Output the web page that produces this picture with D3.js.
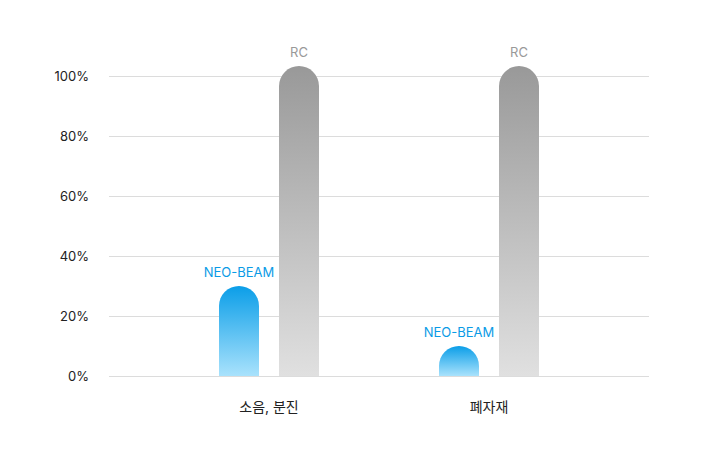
<!DOCTYPE html>
<html><head><meta charset="utf-8">
<script src="https://cdn.jsdelivr.net/npm/d3@7"></script>
<style>
html,body{margin:0;padding:0;background:#fff;}
svg{display:block;font-family:Inter,"Noto Sans CJK KR",sans-serif;}
</style></head>
<body>
<svg id="chart" width="703" height="458"></svg>
<script>
const categories = ["소음, 분진", "폐자재"];
const seriesNames = ["NEO-BEAM", "RC"];
const neoBeam = [30, 10];
const rc = [103.3, 103.3];
const yTicks = [0, 20, 40, 60, 80, 100];

(function(){
const svg = d3.select("#chart");
const pLeft = 109, pRight = 649, pTop = 76, pBottom = 376;
const y = d3.scaleLinear().domain([0, 100]).range([pBottom, pTop]);
const x0 = d3.scaleBand().domain(categories).range([159, 599]).padding(0);
const x1 = d3.scaleBand().domain(seriesNames).range([50, 170]).paddingInner(0.5).paddingOuter(0.25);

const defs = svg.append("defs");
const gb = defs.append("linearGradient").attr("id","gBlue").attr("x1",0).attr("y1",0).attr("x2",0).attr("y2",1);
gb.append("stop").attr("offset","0%").attr("stop-color","#0b9ee8");
gb.append("stop").attr("offset","100%").attr("stop-color","#a9e2fc");
const gg = defs.append("linearGradient").attr("id","gGray").attr("x1",0).attr("y1",0).attr("x2",0).attr("y2",1);
gg.append("stop").attr("offset","0%").attr("stop-color","#999999");
gg.append("stop").attr("offset","100%").attr("stop-color","#e0e0e0");

svg.append("g").selectAll("line").data(yTicks).join("line")
  .attr("x1", pLeft).attr("x2", pRight)
  .attr("y1", d => y(d)).attr("y2", d => y(d))
  .attr("stroke", "#dcdcdc").attr("stroke-width", 1).attr("shape-rendering","crispEdges");

svg.append("g").selectAll("text").data(yTicks).join("text")
  .attr("x", 89).attr("y", d => y(d)).attr("dy", "0.35em")
  .attr("text-anchor", "end").attr("font-size", 13).attr("fill", "#222")
  .text(d => d + "%");

function barPath(x, w, yT, yB) {
  const r = w / 2;
  return `M${x},${yB} L${x},${yT + r} A${r},${r} 0 0 1 ${x + w},${yT + r} L${x + w},${yB} Z`;
}

const bars = [];
categories.forEach((c, i) => {
  bars.push({cat: c, s: "NEO-BEAM", v: neoBeam[i]});
  bars.push({cat: c, s: "RC", v: rc[i]});
});
const bw = 40;
const bx = d => x0(d.cat) + x1(d.s) + x1.bandwidth() / 2 - bw / 2;

svg.append("g").selectAll("path").data(bars).join("path")
  .attr("d", d => barPath(bx(d), bw, y(d.v), pBottom))
  .attr("fill", d => d.s === "RC" ? "url(#gGray)" : "url(#gBlue)");

svg.append("g").selectAll("text").data(bars).join("text")
  .attr("x", d => bx(d) + bw / 2).attr("y", d => y(d.v) - 9)
  .attr("text-anchor", "middle").attr("font-size", 13)
  .attr("fill", d => d.s === "RC" ? "#999999" : "#0a9be6")
  .text(d => d.s);

svg.append("g").selectAll("text").data(categories).join("text")
  .attr("x", d => x0(d) + x0.bandwidth() / 2).attr("y", 412)
  .attr("text-anchor", "middle").attr("font-size", 14).attr("fill", "#222")
  .text(d => d);
})();
</script>
</body></html>
